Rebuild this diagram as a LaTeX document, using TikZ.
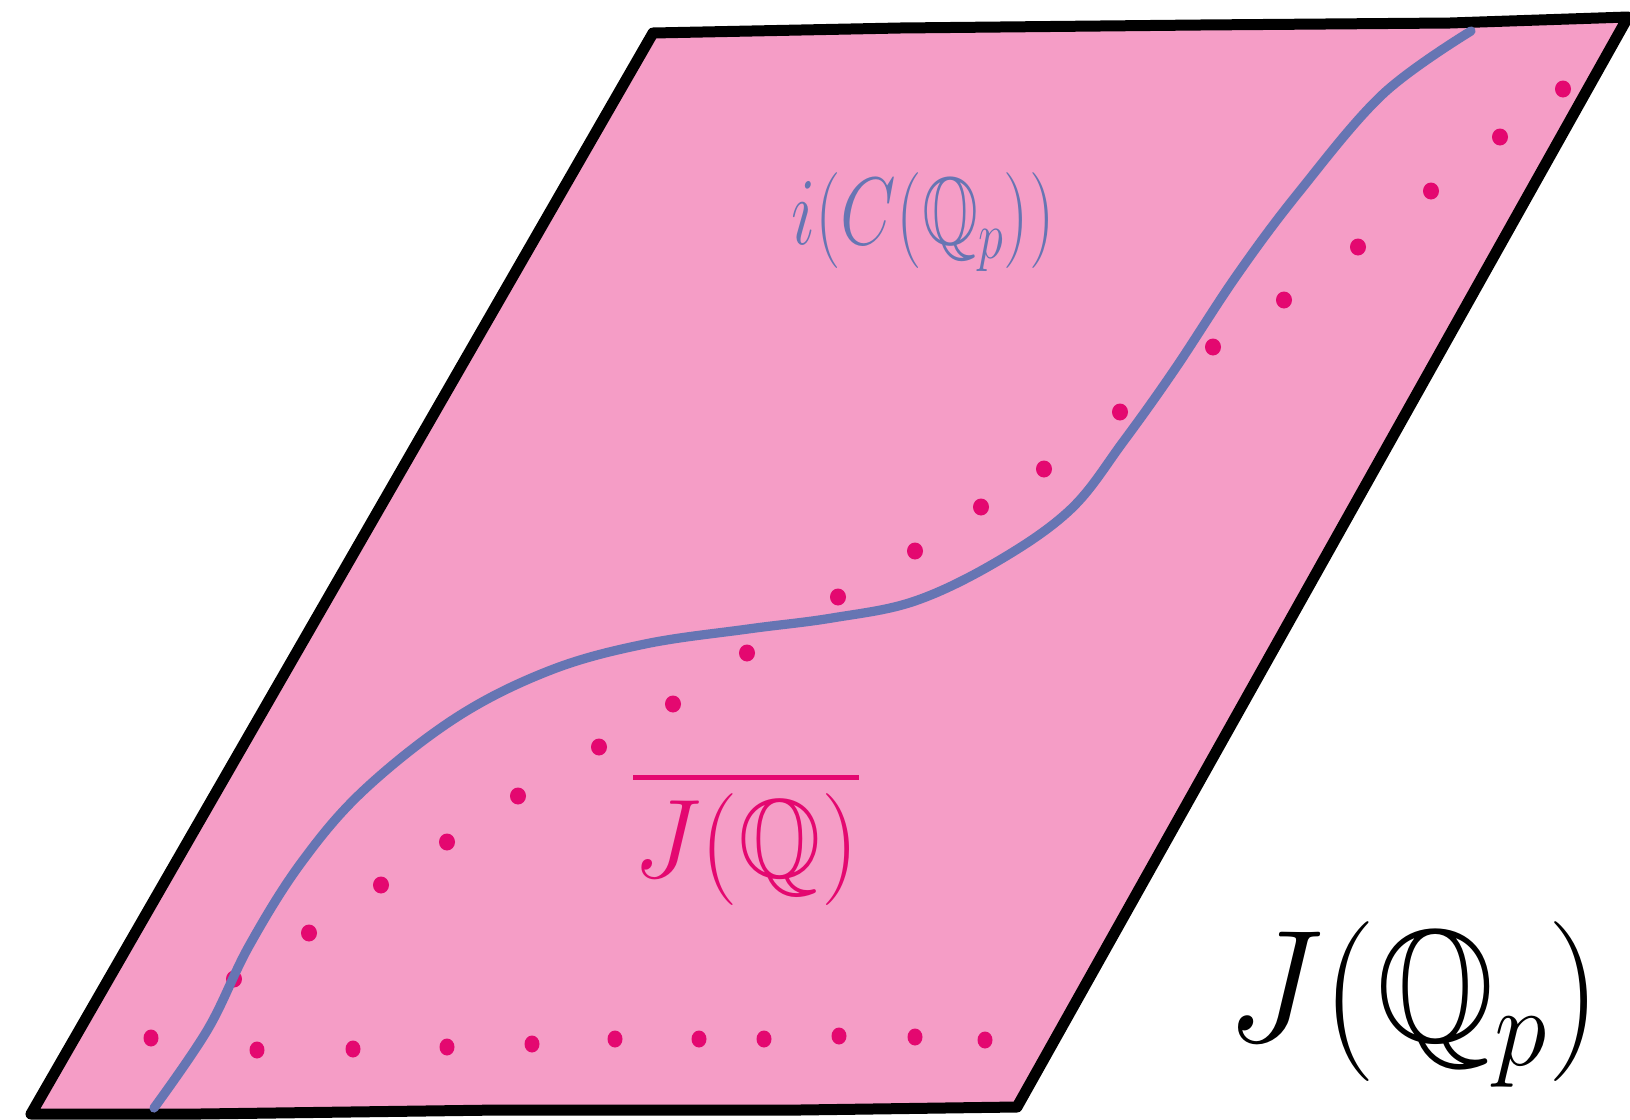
\RequirePackage{fix-cm}
\documentclass[tikz,border=0pt]{standalone}
\usepackage{amssymb}
\definecolor{sheet}{RGB}{245,157,198}
\definecolor{curveblue}{RGB}{102,117,179}
\definecolor{dotpink}{RGB}{228,8,112}
\tikzset{
  border/.style={draw=black,line width=5.5pt,line join=round,line cap=round,fill=sheet},
  bluecurve/.style={draw=curveblue,line width=4.6pt,line cap=round},
  pdot/.style={fill=dotpink,draw=none},
  lab/.style={inner sep=0pt,outer sep=0pt}
}
\begin{document}
\begin{tikzpicture}[x=0.5pt,y=-0.5pt]
\useasboundingbox (0,0) rectangle (1630,1120);
% sheet
\path[border] (653,33) -- (900,28) -- (1200,25) -- (1450,23) -- (1628,17)
  -- (1017,1107)
  -- (800,1110) -- (500,1110) -- (200,1114) -- (31,1114)
  -- cycle;
% dots: bottom row
\foreach \x/\y in {151/1038,257/1050,353/1049,447/1047,532/1044,615/1039,699/1039,764/1039,839/1036,915/1037,985/1040}
  \fill[pdot] (\x,\y) ellipse (7.5 and 8.5);
% dots: diagonal
\foreach \x/\y in {234/979,309/933,381/885,447/842,518/796,599/747,673/704,747/653,838/597,915/551,981/507,1044/469,1120/412,1213/347,1284/300,1358/247,1431/191,1500/137,1563/89}
  \fill[pdot] (\x,\y) ellipse (8 and 8.5);
% blue curve
\draw[bluecurve] plot[smooth,tension=0.6] coordinates {(154,1108) (208,1029) (249,946) (301,863) (364,790) (457,717) (551,670) (645,644) (748,629) (832,618) (915,601) (998,561) (1071,509) (1123,442) (1175,369) (1237,275) (1299,192) (1383,94) (1471,31)};
% labels
\node[lab,text=curveblue,font=\fontsize{48}{56}\selectfont,xscale=0.75] (iC) at (923,222) {$i(C(\mathbb{Q}_p))$};
\node[lab,text=dotpink,font=\fontsize{56}{64}\selectfont,xscale=0.95] (JQ) at (746,838) {$\overline{J(\mathbb{Q})}$};
\node[lab,text=black,font=\fontsize{80}{90}\selectfont,xscale=0.95] (JQp) at (1414,1004) {$J(\mathbb{Q}_p)$};
\end{tikzpicture}
\end{document}
